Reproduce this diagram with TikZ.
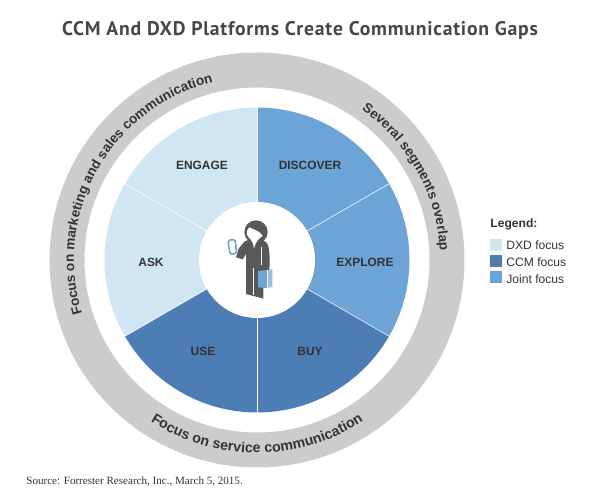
\documentclass[tikz,border=0pt]{standalone}
\usepackage{fontspec}
\setmainfont{Liberation Sans}
\newfontfamily\titlefont[LetterSpace=4]{PT Sans}
\newfontfamily\sourcefont{Liberation Serif}
\usetikzlibrary{decorations.text}
\definecolor{dxdcol}{HTML}{D0E6F2}
\definecolor{ccmcol}{HTML}{4C7DB5}
\definecolor{jointcol}{HTML}{6CA5D5}
\definecolor{ringcol}{HTML}{CCCCCB}
\definecolor{darkcol}{HTML}{333333}
\definecolor{mancol}{HTML}{595959}
\tikzset{
	seglabel/.style={font=\fontsize{6.8}{8}\selectfont\bfseries, text=darkcol},
	legendtext/.style={font=\fontsize{6.9}{8}\selectfont, text=darkcol, anchor=west, inner sep=0},
	swatch/.style={minimum size=0.24cm, inner sep=0, anchor=west}
}
\newcommand{\ringfont}{\fontsize{7.7}{9}\selectfont\bfseries}
\newcommand{\lowfont}{\fontsize{8.1}{9}\selectfont\bfseries}
\begin{document}
\begin{tikzpicture}
\useasboundingbox (0,0) rectangle (12.14,10);
\node[font=\titlefont\fontsize{11.2}{13}\selectfont\bfseries, text=darkcol!90] (title) at (6,9.4) {CCM And DXD Platforms Create Communication Gaps};
\begin{scope}[shift={(5.14,4.8)}]
\fill[ringcol, even odd rule] (0,0) circle (4.15) (0,0) circle (3.45);
\foreach \a/\col in {90/jointcol,30/jointcol,-30/ccmcol,-90/ccmcol,-150/dxdcol,150/dxdcol}
{
	\fill[\col] (0,0) -- (\a:3.05) arc (\a:\a-60:3.05) -- cycle;
}
\foreach \a in {30,90,150,210,270,330}
{
	\draw[white, line width=0.3pt] (0,0) -- (\a:3.05);
}
\fill[white] (0,0) circle (1.16);
\path[decorate, decoration={text along path, text align=center, text={|\ringfont\color{darkcol}|Focus on marketing and sales communication}}] (208:3.66) arc (208:93:3.66);
\path[decorate, decoration={text along path, text align=center, text={|\ringfont\color{darkcol}|Several segments overlap}}] (69:3.66) arc (69:-11:3.66);
\path[decorate, decoration={text along path, text align=center, text={|\lowfont\color{darkcol}|Focus on service communication}}] (225:3.86) arc (225:315:3.86);
\node[seglabel] (engage) at (-1.1,1.9) {ENGAGE};
\node[seglabel] (discover) at (1.06,1.9) {DISCOVER};
\node[seglabel] (explore) at (2.16,-0.04) {EXPLORE};
\node[seglabel] (buy) at (1.06,-1.82) {BUY};
\node[seglabel] (use) at (-1.08,-1.82) {USE};
\node[seglabel] (ask) at (-2.12,-0.04) {ASK};
\end{scope}
% person, traced in crop units
\begin{scope}[shift={(3.8,6)}, x=0.00667cm, y=-0.00667cm]
\fill[mancol] (198,96) circle (35);
\fill[mancol] (164,124) .. controls (180,116) and (218,116) .. (230,128) .. controls (238,140) and (240,160) .. (238,215) -- (220,228) -- (220,296) -- (168,282) -- (168,162) -- (158,178) -- (138,172) -- (146,146) -- cycle;
\fill[white] (178,82) .. controls (195,90) and (210,94) .. (218,108) .. controls (208,114) and (198,122) .. (192,146) .. controls (190,130) and (186,122) .. (176,112) .. controls (168,104) and (168,92) .. (178,82) -- cycle;
\draw[white, line width=0.25pt] (215,141) -- (215,195);
\draw[white, line width=0.4pt] (190,205) -- (190,285);
\filldraw[draw=jointcol, fill=white, line width=0.9pt, rounded corners=1pt] (114,121) -- (135,118) -- (140,160) -- (120,163) -- cycle;
\fill[jointcol] (204,213) -- (232,210) -- (232,264) -- (204,262) -- cycle;
\fill[jointcol!70!white] (232,210) -- (247,208) -- (247,261) -- (232,264) -- cycle;
\draw[white, line width=0.3pt] (232,210) -- (232,264);
\end{scope}
\node[anchor=west, inner sep=0, font=\fontsize{6.9}{8}\selectfont\bfseries, text=darkcol] (legend) at (9.8,5.52) {Legend:};
\node[swatch, fill=dxdcol] (dxdbox) at (9.8,5.1) {};
\node[swatch, fill=ccmcol] (ccmbox) at (9.8,4.78) {};
\node[swatch, fill=jointcol] (jointbox) at (9.8,4.46) {};
\node[legendtext] (dxdlabel) at (10.12,5.1) {DXD focus};
\node[legendtext] (ccmlabel) at (10.12,4.76) {CCM focus};
\node[legendtext] (jointlabel) at (10.12,4.42) {Joint focus};
\node[anchor=west, inner sep=0, font=\sourcefont\fontsize{6.3}{8}\selectfont, text=darkcol] (source) at (0.52,0.36) {Source: Forrester Research, Inc., March 5, 2015.};
\end{tikzpicture}
\end{document}
